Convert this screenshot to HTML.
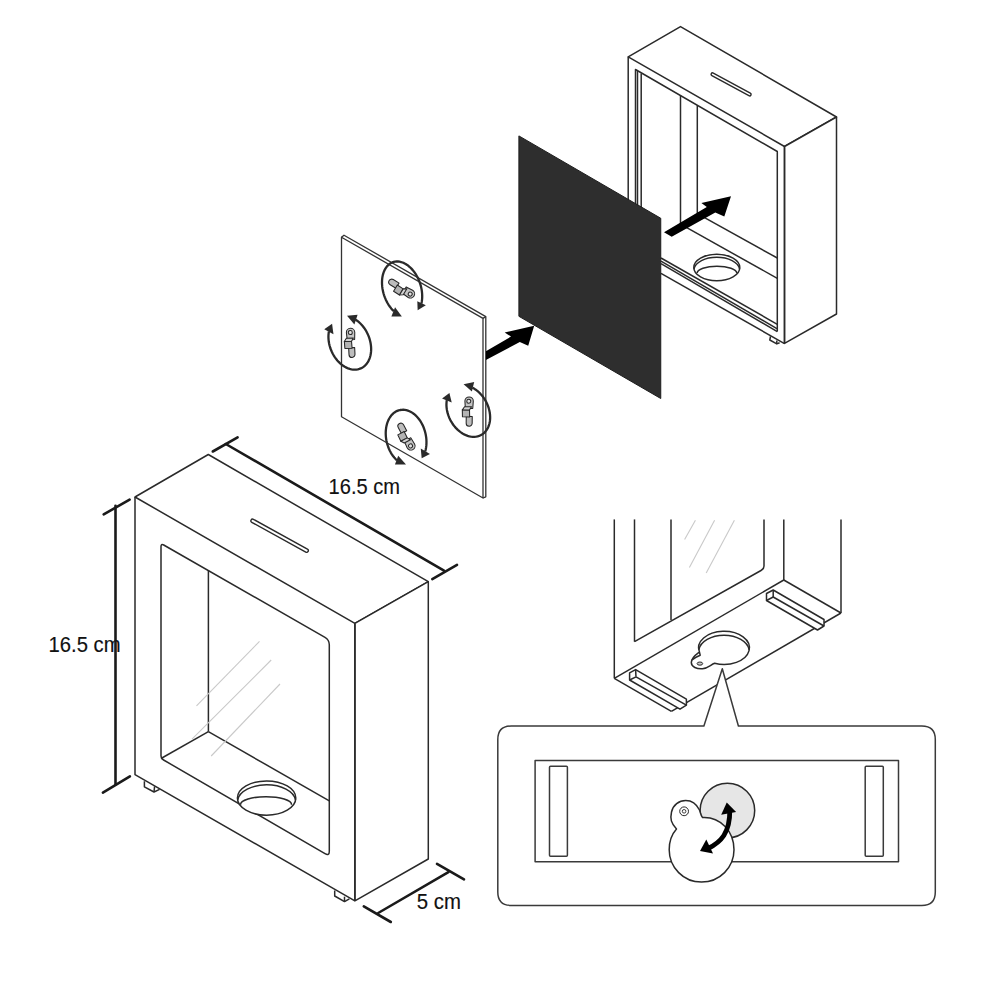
<!DOCTYPE html>
<html><head><meta charset="utf-8"><style>
html,body{margin:0;padding:0;background:#fff;}
svg{display:block;}
</style></head><body>
<svg width="1000" height="1000" viewBox="0 0 1000 1000" fill="none" stroke="#2a2a2a" stroke-width="1.5" stroke-linejoin="round">
<rect x="0" y="0" width="1000" height="1000" fill="#fff" stroke="none"/>
<polygon points="628.20,56.80 680.50,26.60 836.50,117.00 784.50,146.50" fill="#fff" />
<polygon points="784.50,146.50 836.50,117.00 836.50,314.00 784.50,343.40" fill="#fff" />
<line x1="628.20" y1="56.80" x2="628.20" y2="260.00" />
<line x1="784.50" y1="146.50" x2="784.50" y2="343.40" />
<path d="M712.6,74.4 L749.6,94.4" stroke-width="4.4" stroke-linecap="round"/>
<path d="M712.6,74.4 L749.6,94.4" stroke-width="1.6" stroke="#fff" stroke-linecap="round"/>
<polyline points="635.50,260.00 635.50,69.50 777.30,151.50 777.30,331.60" fill="none" />
<line x1="637.50" y1="71.00" x2="637.50" y2="260.00" />
<line x1="641.20" y1="73.50" x2="641.20" y2="260.00" />
<line x1="680.50" y1="95.50" x2="680.50" y2="224.20" />
<line x1="697.30" y1="105.50" x2="697.30" y2="213.70" />
<line x1="697.30" y1="213.70" x2="777.30" y2="258.00" />
<line x1="680.50" y1="224.20" x2="777.30" y2="278.30" />
<line x1="661.00" y1="258.00" x2="777.30" y2="324.30" />
<line x1="661.00" y1="261.20" x2="777.30" y2="328.80" />
<line x1="661.00" y1="263.70" x2="777.30" y2="331.60" />
<line x1="661.00" y1="273.40" x2="784.50" y2="343.60" />
<ellipse cx="716.8" cy="267.5" rx="23" ry="13.35" fill="#fff"/>
<path d="M693.95,269.03 A23,13.35 0 0 1 739.65,269.03"/>
<path d="M697.15,273.1 A19.8,6.9 0 0 1 736.75,273.1"/>
<polyline points="770.50,336.40 769.80,340.00 776.80,343.90 779.60,342.70" fill="none" />
<line x1="776.80" y1="340.40" x2="776.80" y2="343.90" />
<polygon points="518.90,135.90 660.75,218.25 660.75,398.50 518.90,316.30" fill="#2e2e2e" stroke="#1c1c1c" stroke-width="1"/>
<polygon points="664.00,232.20 706.80,207.00 701.40,203.00 731.00,196.20 724.30,216.50 715.30,212.40 671.70,236.70" fill="#000" stroke="none"/>
<g stroke="#333" stroke-width="1.3">
<polygon points="341.50,237.20 483.00,318.40 483.00,498.00 341.50,416.80" fill="#fff" />
<polyline points="341.50,237.20 344.00,235.20 485.80,316.60 485.80,496.80 483.00,498.00" fill="none" />
<line x1="483.00" y1="318.40" x2="485.80" y2="316.60" />
</g>
<polygon points="485.90,351.30 511.00,336.60 504.70,332.40 534.20,325.75 528.20,345.70 519.80,341.90 485.90,360.00" fill="#000" stroke="none"/>
<path d="M393.89,311.28 L392.51,309.90 L391.19,308.40 L389.94,306.78 L388.75,305.07 L387.64,303.26 L386.62,301.38 L385.69,299.42 L384.85,297.41 L384.11,295.35 L383.48,293.25 L382.95,291.13 L382.54,289.01 L382.24,286.88 L382.06,284.77 L381.99,282.68 L382.04,280.64 L382.20,278.65 L382.48,276.71 L382.88,274.86 L383.39,273.08 L384.00,271.40 L384.73,269.83 L385.55,268.37 L386.47,267.03 L387.48,265.82 L388.57,264.75 L389.74,263.83 L390.99,263.05 L392.30,262.42 L393.67,261.95 L395.08,261.65 L396.54,261.50 L398.03,261.51 L399.54,261.69 L401.07,262.03 L402.60,262.52 L404.13,263.18 L405.65,263.98 L407.15,264.94 L408.62,266.03 L410.05,267.27 L411.43,268.63 L412.76,270.11 L414.03,271.70 L415.23,273.40 L416.35,275.19 L417.39,277.06 L418.34,279.00 L419.20,281.01 L419.96,283.06 L420.61,285.15 L421.15,287.26 L421.59,289.39 L421.91,291.52 L422.11,293.63 L422.20,295.72 L422.18,297.78 L422.03,299.78 L421.77,301.72 L421.40,303.60" stroke-width="2.3" stroke="#2a2a2a"/>
<polygon points="401.85,316.50 391.38,316.50 395.06,307.19" fill="#2a2a2a" stroke="none"/>
<polygon points="417.66,310.20 417.31,301.23 425.83,305.37" fill="#2a2a2a" stroke="none"/>
<path d="M328.93,331.36 L328.64,333.26 L328.47,335.21 L328.43,337.21 L328.53,339.25 L328.74,341.31 L329.09,343.38 L329.56,345.45 L330.15,347.50 L330.86,349.52 L331.69,351.51 L332.62,353.44 L333.65,355.31 L334.79,357.11 L336.01,358.82 L337.32,360.43 L338.70,361.94 L340.15,363.34 L341.65,364.61 L343.21,365.76 L344.80,366.76 L346.43,367.62 L348.07,368.34 L349.73,368.90 L351.39,369.31 L353.03,369.55 L354.66,369.64 L356.26,369.57 L357.81,369.33 L359.32,368.94 L360.78,368.39 L362.16,367.69 L363.47,366.84 L364.70,365.85 L365.84,364.72 L366.89,363.45 L367.83,362.07 L368.66,360.57 L369.38,358.96 L369.98,357.26 L370.45,355.47 L370.81,353.60 L371.04,351.68 L371.14,349.69 L371.11,347.67 L370.95,345.62 L370.66,343.56 L370.25,341.49 L369.72,339.43 L369.07,337.39 L368.30,335.38 L367.42,333.43 L366.43,331.52 L365.34,329.69 L364.16,327.94 L362.89,326.27 L361.55,324.71 L360.13,323.26 L358.65,321.93 L357.12,320.72 L355.54,319.65" stroke-width="2.3" stroke="#2a2a2a"/>
<polygon points="332.08,323.70 324.26,329.22 333.46,334.28" fill="#2a2a2a" stroke="none"/>
<polygon points="347.02,315.66 357.60,314.74 354.38,324.40" fill="#2a2a2a" stroke="none"/>
<path d="M446.81,400.11 L446.56,401.97 L446.45,403.90 L446.46,405.86 L446.62,407.86 L446.90,409.88 L447.32,411.91 L447.86,413.93 L448.54,415.93 L449.33,417.90 L450.24,419.83 L451.26,421.70 L452.39,423.51 L453.61,425.25 L454.92,426.89 L456.32,428.44 L457.79,429.88 L459.32,431.20 L460.91,432.40 L462.55,433.47 L464.22,434.40 L465.92,435.19 L467.63,435.82 L469.34,436.31 L471.05,436.64 L472.74,436.81 L474.40,436.82 L476.03,436.67 L477.60,436.37 L479.13,435.91 L480.58,435.30 L481.96,434.53 L483.25,433.62 L484.45,432.58 L485.56,431.40 L486.55,430.09 L487.44,428.67 L488.20,427.14 L488.85,425.51 L489.36,423.79 L489.75,421.99 L490.01,420.13 L490.13,418.20 L490.11,416.24 L489.97,414.24 L489.69,412.22 L489.27,410.20 L488.73,408.18 L488.06,406.17 L487.27,404.20 L486.37,402.27 L485.35,400.39 L484.23,398.58 L483.01,396.84 L481.70,395.20 L480.30,393.65 L478.84,392.20 L477.30,390.87 L475.72,389.67 L474.08,388.60 L472.41,387.66" stroke-width="2.3" stroke="#2a2a2a"/>
<polygon points="449.42,392.94 442.06,398.46 451.72,402.60" fill="#2a2a2a" stroke="none"/>
<polygon points="463.58,384.18 474.16,381.88 471.86,391.54" fill="#2a2a2a" stroke="none"/>
<path d="M396.95,460.33 L395.58,459.01 L394.27,457.56 L393.03,455.99 L391.87,454.32 L390.80,452.55 L389.81,450.69 L388.92,448.75 L388.13,446.75 L387.44,444.70 L386.87,442.60 L386.41,440.48 L386.07,438.34 L385.84,436.19 L385.73,434.06 L385.74,431.94 L385.88,429.86 L386.13,427.83 L386.50,425.85 L386.98,423.94 L387.58,422.12 L388.29,420.38 L389.10,418.75 L390.01,417.23 L391.02,415.83 L392.11,414.56 L393.29,413.43 L394.55,412.43 L395.87,411.59 L397.25,410.90 L398.68,410.37 L400.16,410.00 L401.67,409.79 L403.21,409.75 L404.77,409.87 L406.33,410.16 L407.89,410.60 L409.44,411.21 L410.98,411.97 L412.48,412.89 L413.95,413.95 L415.36,415.15 L416.73,416.48 L418.03,417.94 L419.26,419.52 L420.42,421.20 L421.49,422.98 L422.47,424.84 L423.35,426.78 L424.13,428.79 L424.81,430.85 L425.37,432.94 L425.82,435.07 L426.16,437.21 L426.38,439.36 L426.47,441.49 L426.45,443.60 L426.31,445.68 L426.05,447.71 L425.67,449.68 L425.18,451.58" stroke-width="2.3" stroke="#2a2a2a"/>
<polygon points="406.02,464.38 394.98,464.38 398.20,455.64" fill="#2a2a2a" stroke="none"/>
<polygon points="421.68,458.20 420.76,448.54 429.96,454.06" fill="#2a2a2a" stroke="none"/>
<g transform="translate(401.6,288.6) rotate(31.3) scale(1,-1)" stroke-width="1.05" stroke="#262626" stroke-linejoin="round"><path d="M-5,-2.6 L-11.8,-2.6 A3,3 0 0 0 -11.8,3.4 L-5,3.4 Z" fill="#bdbdbd"/><path d="M3,-3.6 L10.3,-4.1 A4.2,4.2 0 0 1 10.3,4.3 L3,3.8 Z" fill="#c4c4c4"/><circle cx="10.2" cy="-0.2" r="2" fill="#e2e2e2" stroke-width="1"/><polygon points="-5.5,-6.4 1.5,-6.6 1.5,0.6 -5.5,0.8" fill="#b3b3b3"/><polygon points="1.5,-6.6 4.6,-4.4 4.6,2.6 1.5,0.6" fill="#d2d2d2"/></g>
<g transform="translate(351,342.7) rotate(-92.9) scale(1,1)" stroke-width="1.05" stroke="#262626" stroke-linejoin="round"><path d="M-5,-2.6 L-11.8,-2.6 A3,3 0 0 0 -11.8,3.4 L-5,3.4 Z" fill="#bdbdbd"/><path d="M3,-3.6 L10.3,-4.1 A4.2,4.2 0 0 1 10.3,4.3 L3,3.8 Z" fill="#c4c4c4"/><circle cx="10.2" cy="-0.2" r="2" fill="#e2e2e2" stroke-width="1"/><polygon points="-5.5,-6.4 1.5,-6.6 1.5,0.6 -5.5,0.8" fill="#b3b3b3"/><polygon points="1.5,-6.6 4.6,-4.4 4.6,2.6 1.5,0.6" fill="#d2d2d2"/></g>
<g transform="translate(468.9,411.4) rotate(-89.4) scale(1,1)" stroke-width="1.05" stroke="#262626" stroke-linejoin="round"><path d="M-5,-2.6 L-11.8,-2.6 A3,3 0 0 0 -11.8,3.4 L-5,3.4 Z" fill="#bdbdbd"/><path d="M3,-3.6 L10.3,-4.1 A4.2,4.2 0 0 1 10.3,4.3 L3,3.8 Z" fill="#c4c4c4"/><circle cx="10.2" cy="-0.2" r="2" fill="#e2e2e2" stroke-width="1"/><polygon points="-5.5,-6.4 1.5,-6.6 1.5,0.6 -5.5,0.8" fill="#b3b3b3"/><polygon points="1.5,-6.6 4.6,-4.4 4.6,2.6 1.5,0.6" fill="#d2d2d2"/></g>
<g transform="translate(406,436.8) rotate(62.4) scale(1,-1)" stroke-width="1.05" stroke="#262626" stroke-linejoin="round"><path d="M-5,-2.6 L-11.8,-2.6 A3,3 0 0 0 -11.8,3.4 L-5,3.4 Z" fill="#bdbdbd"/><path d="M3,-3.6 L10.3,-4.1 A4.2,4.2 0 0 1 10.3,4.3 L3,3.8 Z" fill="#c4c4c4"/><circle cx="10.2" cy="-0.2" r="2" fill="#e2e2e2" stroke-width="1"/><polygon points="-5.5,-6.4 1.5,-6.6 1.5,0.6 -5.5,0.8" fill="#b3b3b3"/><polygon points="1.5,-6.6 4.6,-4.4 4.6,2.6 1.5,0.6" fill="#d2d2d2"/></g>
<polygon points="135.00,497.00 208.30,454.50 428.30,581.70 354.90,623.40" fill="#fff" />
<polygon points="354.90,623.40 428.30,581.70 428.30,859.00 354.90,900.80" fill="#fff" />
<polyline points="135.00,497.00 135.00,774.60 354.90,900.80" fill="none" />
<line x1="354.90" y1="623.40" x2="354.90" y2="900.80" />
<path d="M252.6,520.8 L306.6,550.6" stroke-width="4.8" stroke-linecap="round"/>
<path d="M252.6,520.8 L306.6,550.6" stroke-width="2" stroke="#fff" stroke-linecap="round"/>
<path d="M161,756 L161,546.5 Q161,543.4 163.7,545 L325,637.3 Q329.3,639.8 329.3,644.8 L329.3,851.5 Q329.3,856.2 325,853.7 L163.6,760 Q161,758.5 161,756 Z" fill="none"/>
<line x1="208.40" y1="570.40" x2="208.40" y2="731.70" />
<line x1="208.40" y1="731.70" x2="329.30" y2="800.80" />
<line x1="161.00" y1="758.50" x2="208.40" y2="731.70" />
<line x1="196.50" y1="705.80" x2="259.50" y2="641.40" stroke-width="1.1" stroke="#c9c9c9" />
<line x1="192.00" y1="739.20" x2="271.20" y2="660.00" stroke-width="1.1" stroke="#c9c9c9" />
<line x1="211.20" y1="756.00" x2="280.00" y2="684.00" stroke-width="1.1" stroke="#c9c9c9" />
<ellipse cx="266.6" cy="798.1" rx="29.2" ry="17.15" fill="#fff"/>
<path d="M237.6,800 A29.2,17.15 0 0 1 295.6,800"/>
<path d="M240.5,804.75 A25.55,8.05 0 0 1 291.6,804.75"/>
<polyline points="144.40,781.20 144.40,786.80 154.00,792.00 159.60,789.40" fill="none" />
<line x1="154.60" y1="786.40" x2="154.00" y2="792.00" />
<polyline points="334.70,890.40 334.70,896.00 344.50,901.60 349.40,898.80" fill="none" />
<line x1="344.50" y1="896.70" x2="344.50" y2="901.60" />
<g stroke-linecap="round">
<line x1="225.80" y1="444.00" x2="444.00" y2="570.60" stroke-width="2.6" stroke="#1a1a1a" />
<line x1="212.80" y1="451.50" x2="237.60" y2="437.40" stroke-width="2.6" stroke="#1a1a1a" />
<line x1="432.30" y1="579.10" x2="457.00" y2="564.90" stroke-width="2.6" stroke="#1a1a1a" />
<line x1="115.50" y1="505.80" x2="115.50" y2="784.50" stroke-width="2.6" stroke="#1a1a1a" />
<line x1="103.70" y1="514.40" x2="129.60" y2="499.60" stroke-width="2.6" stroke="#1a1a1a" />
<line x1="102.90" y1="792.60" x2="129.90" y2="776.40" stroke-width="2.6" stroke="#1a1a1a" />
<line x1="378.20" y1="913.00" x2="448.40" y2="872.20" stroke-width="2.6" stroke="#1a1a1a" />
<line x1="363.80" y1="906.40" x2="390.80" y2="922.00" stroke-width="2.6" stroke="#1a1a1a" />
<line x1="437.00" y1="863.80" x2="464.00" y2="879.40" stroke-width="2.6" stroke="#1a1a1a" />
</g>
<line x1="614.30" y1="519.40" x2="614.30" y2="678.40" />
<line x1="634.50" y1="519.40" x2="634.50" y2="641.70" />
<line x1="671.00" y1="519.40" x2="671.00" y2="620.00" />
<path d="M764,519.6 L764,566 Q764,569 761,570.5 L634.5,641.7" fill="none"/>
<line x1="783.80" y1="519.40" x2="783.80" y2="580.00" />
<line x1="841.00" y1="519.40" x2="841.00" y2="613.00" />
<line x1="614.30" y1="678.40" x2="783.80" y2="580.00" />
<line x1="783.80" y1="580.00" x2="841.00" y2="613.00" />
<line x1="684.60" y1="539.40" x2="695.40" y2="520.20" stroke-width="1.1" stroke="#c9c9c9" />
<line x1="689.40" y1="567.60" x2="714.60" y2="520.20" stroke-width="1.1" stroke="#c9c9c9" />
<line x1="706.20" y1="573.00" x2="734.40" y2="520.20" stroke-width="1.1" stroke="#c9c9c9" />
<line x1="614.30" y1="678.40" x2="671.40" y2="711.30" />
<line x1="671.40" y1="711.30" x2="841.00" y2="613.00" />
<polygon points="629.60,672.80 635.60,669.60 686.40,699.20 686.40,705.20 680.00,709.20 629.60,680.00" fill="#fff" />
<line x1="635.60" y1="669.60" x2="636.00" y2="676.80" />
<line x1="629.60" y1="680.00" x2="636.00" y2="676.80" />
<line x1="636.00" y1="676.80" x2="686.40" y2="705.20" />
<polygon points="766.50,593.50 773.20,590.00 824.00,619.50 824.00,626.00 817.50,630.00 766.50,600.50" fill="#fff" />
<line x1="773.20" y1="590.00" x2="773.20" y2="597.00" />
<line x1="766.50" y1="600.50" x2="773.20" y2="597.00" />
<line x1="773.20" y1="597.00" x2="824.00" y2="626.00" />
<path d="M714.6,663.3 A25.4,16.6 0 1 0 699.4,652 C696,654.5 691.3,657.5 691.3,662.5 C691.3,667 697,669.2 702.5,668.8 C707.5,668.4 711,664.5 714.6,663.3 Z" fill="#fff"/>
<path d="M698.8,649.8 A25.4,16.6 0 0 1 749.2,649.8" fill="none"/>
<path d="M699.4,652 L700.2,655.2 C697,656.5 694,658 692,660" fill="none"/>
<ellipse cx="699.9" cy="663.6" rx="2.8" ry="1.6" fill="#c8c8c8" stroke-width="1"/>
<g stroke="#3a3a3a"><path d="M511.3,726 L703.9,726 L722.3,668.7 L738.4,726 L921.8,726 Q935.3,726 935.3,739.5 L935.3,891.9 Q935.3,905.4 921.8,905.4 L511.3,905.4 Q497.8,905.4 497.8,891.9 L497.8,739.5 Q497.8,726 511.3,726 Z" fill="#fff"/>
<rect x="535.1" y="760.5" width="363.4" height="101.2" fill="none"/>
<rect x="549.5" y="766.3" width="17.9" height="89.9" rx="1" fill="none"/>
<rect x="865.2" y="766.3" width="18.1" height="89.9" rx="1" fill="none"/></g>
<circle cx="727.4" cy="810.6" r="27.3" fill="#e6e6e6"/>
<path d="M676.5,829 C671,823 670,819 671.5,812 C673,805 679,800.5 685.75,800.5 C693,800.5 697,805 699.5,810 C700.5,813 701,816 702.5,817.5 C720,816.5 734,831 734,849.8 C734,867.6 719.6,882.1 701.5,882.1 C683.6,882.1 669.2,867.6 669.2,849.8 C669.2,840 672,834 676.5,829 Z" fill="#fff"/>
<circle cx="684.1" cy="811.3" r="4.4" fill="none" stroke-width="1"/>
<circle cx="684.1" cy="811.3" r="1.8" fill="none" stroke-width="0.9"/>
<path d="M708,848.5 C721,842 730,833 729.8,810" stroke="#000" stroke-width="4.8" fill="none"/>
<polygon points="726.75,802.60 721.20,814.80 736.10,811.90" fill="#000" stroke="none"/>
<polygon points="700.00,851.10 706.30,839.60 713.00,853.50" fill="#000" stroke="none"/>
<text x="328.6" y="493.6" textLength="71.5" font-family="Liberation Sans, sans-serif" font-size="21.5" fill="#111" stroke="#111" stroke-width="0.15" lengthAdjust="spacingAndGlyphs">16.5 cm</text>
<text x="48.6" y="652" textLength="72" font-family="Liberation Sans, sans-serif" font-size="21.5" fill="#111" stroke="#111" stroke-width="0.15" lengthAdjust="spacingAndGlyphs">16.5 cm</text>
<text x="416.8" y="909.4" textLength="44.2" font-family="Liberation Sans, sans-serif" font-size="21.5" fill="#111" stroke="#111" stroke-width="0.15" lengthAdjust="spacingAndGlyphs">5 cm</text>
</svg>
</body></html>
